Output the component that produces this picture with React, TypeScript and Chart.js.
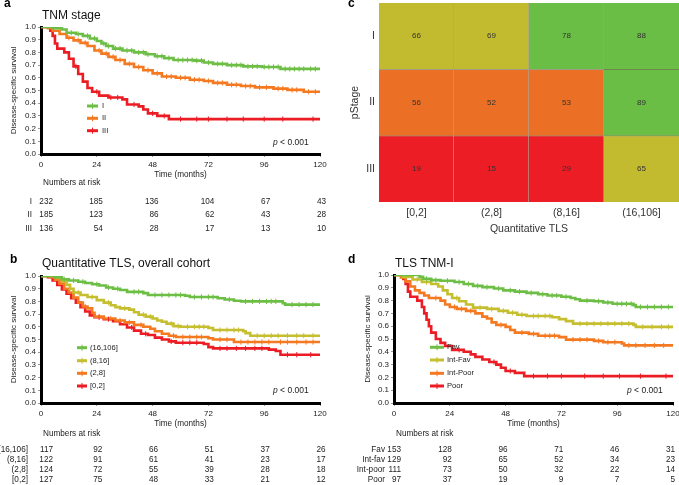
import React, { useEffect, useRef } from "react";
import { Chart, registerables } from "chart.js";

Chart.register(...registerables);

const FONT = "'Liberation Sans', Arial, Helvetica, sans-serif";
Chart.defaults.font.family = FONT;

const GREEN = "#6DBE45";
const OLIVE = "#C5BE2E";
const ORANGE = "#F47920";
const RED = "#EC1C24";

const TIME_TICKS = [0, 24, 48, 72, 96, 120];
const Y_TICKS = [0, 0.1, 0.2, 0.3, 0.4, 0.5, 0.6, 0.7, 0.8, 0.9, 1.0];

// ---------- Panel a: TNM stage ----------
const A_I_T = [0, 5, 9, 11, 15, 18, 21, 24, 26, 28, 31, 35, 40, 45, 49, 53, 57, 66, 70, 74, 80, 87, 95, 103, 120];
const A_I_S = [1, 0.99, 0.98, 0.955, 0.945, 0.93, 0.91, 0.89, 0.87, 0.85, 0.83, 0.815, 0.8, 0.785, 0.77, 0.755, 0.74, 0.735, 0.72, 0.71, 0.7, 0.69, 0.685, 0.67, 0.67];
const A_I_C = [13, 16, 20, 23, 27, 29, 32, 34, 37, 39, 42, 44, 46, 50, 52, 55, 59, 61, 63, 65, 67, 69, 72, 76, 78, 82, 84, 86, 89, 91, 93, 96, 98, 100, 102, 105, 107, 109, 111, 113, 116, 118];
const A_II_T = [0, 3, 5, 8, 11, 14, 17, 20, 23, 26, 29, 32, 36, 40, 44, 48, 52, 58, 64, 70, 74, 80, 86, 92, 100, 106, 113, 120];
const A_II_S = [1, 0.99, 0.97, 0.945, 0.915, 0.895, 0.875, 0.85, 0.815, 0.79, 0.765, 0.74, 0.71, 0.685, 0.66, 0.635, 0.61, 0.6, 0.585, 0.575, 0.56, 0.545, 0.535, 0.525, 0.515, 0.505, 0.49, 0.49];
const A_II_C = [12, 16, 19, 25, 28, 31, 34, 38, 42, 46, 50, 54, 56, 60, 62, 66, 68, 72, 76, 78, 82, 84, 88, 90, 94, 97, 102, 104, 108, 110, 115, 118];
const A_III_T = [0, 4, 5, 6, 7, 10, 12, 14, 16, 18, 20, 22, 25, 29, 35, 37, 42, 44, 46, 50, 55, 120];
const A_III_S = [1, 0.97, 0.93, 0.87, 0.83, 0.8, 0.75, 0.69, 0.63, 0.57, 0.52, 0.49, 0.46, 0.445, 0.43, 0.39, 0.375, 0.35, 0.32, 0.3, 0.275, 0.275];
const A_III_C = [15, 24, 30, 33, 40, 48, 53, 60, 67, 72, 80, 87, 96, 104, 117];
const A_RISK_I = [232, 185, 136, 104, 67, 43];
const A_RISK_II = [185, 123, 86, 62, 43, 28];
const A_RISK_III = [136, 54, 28, 17, 13, 10];

// ---------- Panel b: Quantitative TLS ----------
const B_G_T = [0, 6, 9, 12, 16, 19, 22, 25, 28, 31, 34, 37, 44, 46, 62, 64, 76, 79, 83, 86, 104, 105, 120];
const B_G_S = [1, 0.99, 0.975, 0.965, 0.955, 0.945, 0.935, 0.925, 0.91, 0.9, 0.89, 0.875, 0.865, 0.85, 0.845, 0.835, 0.825, 0.815, 0.805, 0.8, 0.785, 0.775, 0.775];
const B_G_C = [10, 14, 18, 24, 29, 33, 40, 42, 49, 52, 55, 58, 60, 66, 69, 72, 74, 81, 88, 91, 94, 97, 99, 101, 108, 111, 114, 117];
const B_Y_T = [0, 7, 9, 11, 12.5, 14, 17, 20, 24, 27, 30, 32, 34, 38, 40, 42, 45, 48, 50, 52, 54, 57, 60, 72, 74, 87, 88, 90, 120];
const B_Y_S = [1, 0.985, 0.96, 0.93, 0.9, 0.87, 0.85, 0.835, 0.81, 0.79, 0.77, 0.755, 0.745, 0.735, 0.715, 0.695, 0.68, 0.665, 0.65, 0.64, 0.625, 0.605, 0.6, 0.59, 0.575, 0.565, 0.55, 0.53, 0.53];
const B_Y_C = [16, 22, 29, 36, 44, 47, 56, 59, 63, 66, 68, 70, 77, 80, 83, 85, 93, 96, 99, 102, 106, 110, 113, 117];
const B_O_T = [0, 4, 6, 8, 10, 12, 14, 16, 18, 20, 22, 23, 27, 32, 36, 40, 44, 47, 49, 52, 55, 58, 72, 74, 83, 120];
const B_O_S = [1, 0.99, 0.97, 0.94, 0.9, 0.87, 0.83, 0.79, 0.76, 0.745, 0.71, 0.68, 0.665, 0.65, 0.635, 0.615, 0.6, 0.585, 0.565, 0.545, 0.53, 0.52, 0.51, 0.5, 0.48, 0.48];
const B_O_C = [19, 25, 30, 34, 38, 43, 57, 61, 64, 67, 69, 77, 80, 86, 89, 92, 95, 98, 103, 106, 110, 114, 117];
const B_R_T = [0, 3, 5, 7, 9, 11, 13, 15, 17, 19, 21, 23, 27, 31, 34, 37, 40, 43, 46, 49, 52, 55, 58, 70, 72, 74, 98, 101, 103, 120];
const B_R_S = [1, 0.99, 0.965, 0.93, 0.895, 0.86, 0.825, 0.79, 0.755, 0.72, 0.69, 0.675, 0.66, 0.645, 0.62, 0.595, 0.57, 0.545, 0.535, 0.515, 0.5, 0.485, 0.475, 0.465, 0.44, 0.43, 0.42, 0.41, 0.38, 0.38];
const B_R_C = [25, 29, 39, 45, 56, 61, 64, 67, 77, 80, 84, 88, 92, 95, 106, 110, 116];
const B_RISK_G = [117, 92, 66, 51, 37, 26];
const B_RISK_Y = [122, 91, 61, 41, 23, 17];
const B_RISK_O = [124, 72, 55, 39, 28, 18];
const B_RISK_R = [127, 75, 48, 33, 21, 12];

// ---------- Panel c: heatmap ----------
const TLS_BINS = ["[0,2]", "(2,8]", "(8,16]", "(16,106]"];
const PSTAGE_BOTTOM_UP = ["III", "II", "I"];
const DSS_I = [66, 69, 78, 88];
const DSS_II = [56, 52, 53, 89];
const DSS_III = [19, 15, 29, 65];

// ---------- Panel d: TLS TNM-I ----------
const D_F_T = [0, 11, 12.5, 16, 20, 26, 30, 34, 38, 43, 47, 52, 57, 62, 66, 72, 76, 78, 80, 86, 90, 94, 103, 104, 120];
const D_F_S = [1, 0.985, 0.97, 0.96, 0.955, 0.945, 0.93, 0.915, 0.905, 0.895, 0.88, 0.87, 0.86, 0.85, 0.84, 0.83, 0.82, 0.81, 0.8, 0.795, 0.785, 0.775, 0.765, 0.75, 0.75];
const D_F_C = [14, 18, 23, 28, 32, 36, 40, 45, 50, 54, 59, 64, 68, 70, 74, 83, 88, 92, 96, 98, 100, 102, 106, 109, 112, 115, 118];
const D_IF_T = [0, 4, 8, 12, 16, 19, 21, 23, 25, 28, 31, 34, 40, 45, 49, 53, 57, 68, 71, 74, 77, 103, 104, 120];
const D_IF_S = [1, 0.985, 0.965, 0.945, 0.93, 0.91, 0.88, 0.85, 0.82, 0.795, 0.77, 0.745, 0.735, 0.72, 0.705, 0.69, 0.68, 0.67, 0.655, 0.64, 0.62, 0.61, 0.595, 0.595];
const D_IF_C = [10, 14, 27, 37, 42, 47, 51, 55, 60, 62, 65, 67, 80, 83, 86, 89, 92, 95, 98, 101, 107, 111, 115, 118];
const D_IP_T = [0, 3, 5, 7, 9, 11, 13, 15, 20, 22, 24, 27, 31, 35, 38, 40, 42, 44, 48, 50, 52, 58, 62, 71, 74, 86, 90, 98, 99, 120];
const D_IP_S = [1, 0.98, 0.95, 0.91, 0.88, 0.86, 0.84, 0.82, 0.8, 0.77, 0.75, 0.735, 0.72, 0.7, 0.675, 0.66, 0.63, 0.61, 0.595, 0.57, 0.55, 0.54, 0.525, 0.515, 0.495, 0.485, 0.475, 0.465, 0.45, 0.45];
const D_IP_C = [18, 26, 29, 33, 46, 55, 60, 65, 67, 69, 77, 80, 83, 88, 92, 95, 101, 104, 108, 112, 116];
const D_P_T = [0, 4, 5, 6, 7, 10, 12, 13, 14, 15, 16, 18, 20, 22, 25, 30, 33, 35, 38, 41, 44, 46, 48, 52, 56, 120];
const D_P_S = [1, 0.97, 0.93, 0.87, 0.83, 0.8, 0.75, 0.7, 0.65, 0.6, 0.55, 0.5, 0.47, 0.445, 0.415, 0.4, 0.38, 0.36, 0.34, 0.32, 0.3, 0.275, 0.25, 0.235, 0.21, 0.21];
const D_P_C = [28, 43, 50, 60, 66, 72, 82, 90, 97, 106, 117];
const D_RISK_F = [153, 128, 96, 71, 46, 31];
const D_RISK_IF = [129, 92, 65, 52, 34, 23];
const D_RISK_IP = [111, 73, 50, 32, 22, 14];
const D_RISK_P = [97, 37, 19, 9, 7, 5];

// ---------- helpers ----------
type Curve = {
  label: string;
  riskLabel: string;
  color: string;
  t: number[];
  s: number[];
  c: number[];
  risk: number[];
};

type KMPanel = {
  width: number;
  height: number;
  padding: { top: number; right: number; bottom: number; left: number };
  yWidth: number;
  xHeight: number;
  yTitlePad: number;
  xTitlePad: number;
  letter: string;
  letterX: number;
  letterY: number;
  title: string;
  titleX: number;
  titleY: number;
  curves: Curve[];
  legYs: number[];
  legX0: number;
  legX1: number;
  legLabelX: number;
  pX: number;
  pY: number;
  riskHeadX: number;
  riskHeadY: number;
  riskYs: number[];
  riskLabelX: number;
  col0Off: number;
  colOff: number;
};

function stepAt(t: number[], s: number[], x: number) {
  let v = s[0];
  for (let i = 0; i < t.length; i++) {
    if (t[i] <= x) v = s[i];
    else break;
  }
  return v;
}

function kmConfig(p: KMPanel): any {
  const censor = p.curves.map((cv) => ({
    type: "line",
    data: cv.c.map((x) => ({ x, y: stepAt(cv.t, cv.s, x) })),
    showLine: false,
    pointStyle: "line",
    rotation: 90,
    pointRadius: 2.6,
    pointBorderWidth: 1,
    pointBorderColor: cv.color,
    borderColor: cv.color,
    backgroundColor: cv.color,
  }));
  const lines = p.curves.map((cv) => ({
    type: "line",
    data: cv.t.map((x, i) => ({ x, y: cv.s[i] })),
    stepped: "before",
    borderColor: cv.color,
    borderWidth: 2.6,
    pointRadius: 0,
    fill: false,
  }));

  const textPlugin = {
    id: "kmText",
    afterDraw(chart: any) {
      const ctx = chart.ctx as CanvasRenderingContext2D;
      const xs = chart.scales.x;
      ctx.save();
      ctx.textAlign = "left";
      ctx.textBaseline = "alphabetic";
      ctx.fillStyle = "#000";
      ctx.font = `bold 12px ${FONT}`;
      ctx.fillText(p.letter, p.letterX, p.letterY);
      ctx.font = `12px ${FONT}`;
      ctx.fillStyle = "#111";
      ctx.fillText(p.title, p.titleX, p.titleY);

      // legend
      p.curves.forEach((cv, i) => {
        const y = p.legYs[i];
        ctx.strokeStyle = cv.color;
        ctx.lineWidth = 3;
        ctx.beginPath();
        ctx.moveTo(p.legX0, y);
        ctx.lineTo(p.legX1, y);
        ctx.stroke();
        const mid = (p.legX0 + p.legX1) / 2;
        ctx.lineWidth = 1;
        ctx.beginPath();
        ctx.moveTo(mid, y - 3);
        ctx.lineTo(mid, y + 3);
        ctx.stroke();
        ctx.fillStyle = "#222";
        ctx.font = `7.6px ${FONT}`;
        ctx.textBaseline = "middle";
        ctx.fillText(cv.label, p.legLabelX, y);
      });

      // p value
      ctx.fillStyle = "#222";
      ctx.textBaseline = "middle";
      ctx.font = `italic 8.5px ${FONT}`;
      ctx.fillText("p", p.pX, p.pY);
      const pw = ctx.measureText("p").width;
      ctx.font = `8.5px ${FONT}`;
      ctx.fillText(" < 0.001", p.pX + pw, p.pY);

      // risk table
      ctx.font = `8.2px ${FONT}`;
      ctx.fillText("Numbers at risk", p.riskHeadX, p.riskHeadY);
      p.curves.forEach((cv, i) => {
        const y = p.riskYs[i];
        ctx.textAlign = "right";
        ctx.fillText(cv.riskLabel, p.riskLabelX, y);
        cv.risk.forEach((n, j) => {
          const xt = xs.getPixelForValue(TIME_TICKS[j]);
          ctx.fillText(String(n), xt + (j === 0 ? p.col0Off : p.colOff), y);
        });
      });
      ctx.restore();
    },
  };

  return {
    type: "line",
    data: { datasets: [...censor, ...lines] },
    options: {
      animation: false,
      responsive: false,
      devicePixelRatio: 1,
      layout: { padding: p.padding },
      plugins: { legend: { display: false }, tooltip: { enabled: false } },
      scales: {
        x: {
          type: "linear",
          min: 0,
          max: 120,
          afterBuildTicks: (s: any) => {
            s.ticks = TIME_TICKS.map((v) => ({ value: v }));
          },
          ticks: { font: { size: 8 }, color: "#222", padding: 3, maxRotation: 0, autoSkip: false },
          grid: { drawOnChartArea: false, tickLength: 3, color: "#999" },
          border: { display: true, color: "#000", width: 3 },
          title: {
            display: true,
            text: "Time (months)",
            font: { size: 8.2 },
            color: "#222",
            padding: { top: 0, bottom: p.xTitlePad },
          },
          afterFit: (s: any) => {
            s.height = p.xHeight;
            s.paddingLeft = 0;
            s.paddingRight = 0;
          },
        },
        y: {
          type: "linear",
          min: 0,
          max: 1,
          afterBuildTicks: (s: any) => {
            s.ticks = Y_TICKS.map((v) => ({ value: v }));
          },
          ticks: {
            font: { size: 8 },
            color: "#222",
            padding: 2,
            autoSkip: false,
            callback: (v: any) => Number(v).toFixed(1),
          },
          grid: { drawOnChartArea: false, tickLength: 3, color: "#999" },
          border: { display: true, color: "#000", width: 3 },
          title: {
            display: true,
            text: "Disease-specific survival",
            font: { size: 8 },
            color: "#222",
            padding: { top: p.yTitlePad, bottom: 0 },
          },
          afterFit: (s: any) => {
            s.width = p.yWidth;
            s.paddingTop = 0;
            s.paddingBottom = 0;
          },
        },
      },
    },
    plugins: [textPlugin],
  };
}

function cellColor(v: number) {
  if (v >= 75) return "#6ABD45";
  if (v >= 60) return "#C2BB30";
  if (v >= 40) return "#EB7025";
  return "#EC1D25";
}

function heatmapConfig(): any {
  const rows = [DSS_III, DSS_II, DSS_I];
  const datasets = rows.map((vals, di) => ({
    label: PSTAGE_BOTTOM_UP[di],
    data: vals.map(() => 1),
    backgroundColor: vals.map(cellColor),
    borderColor: "rgba(70,50,20,0.45)",
    borderWidth: (ctx: any) => ({
      top: ctx.datasetIndex < 2 ? 1 : 0,
      right: ctx.dataIndex < 3 ? 1 : 0,
      bottom: 0,
      left: 0,
    }),
    borderSkipped: false,
    barPercentage: 1,
    categoryPercentage: 1,
  }));

  const cellText = {
    id: "cellText",
    afterDatasetsDraw(chart: any) {
      const ctx = chart.ctx as CanvasRenderingContext2D;
      ctx.save();
      ctx.font = `8px ${FONT}`;
      ctx.fillStyle = "#333";
      ctx.textAlign = "center";
      ctx.textBaseline = "middle";
      rows.forEach((vals, di) => {
        const meta = chart.getDatasetMeta(di);
        meta.data.forEach((el: any, ci: number) => {
          const pr = el.getProps(["x", "y", "base"], true);
          ctx.fillText(String(vals[ci]), pr.x, (pr.y + pr.base) / 2);
        });
      });
      ctx.fillStyle = "#000";
      ctx.font = `bold 12px ${FONT}`;
      ctx.textAlign = "left";
      ctx.textBaseline = "alphabetic";
      ctx.fillText("c", 8, 7);
      ctx.restore();
    },
  };

  return {
    type: "bar",
    data: { labels: TLS_BINS, datasets },
    options: {
      animation: false,
      responsive: false,
      devicePixelRatio: 1,
      layout: { padding: { top: 3, right: 0, bottom: 4, left: 0 } },
      plugins: { legend: { display: false }, tooltip: { enabled: false } },
      scales: {
        x: {
          type: "category",
          stacked: true,
          grid: { display: false, drawTicks: false },
          border: { display: false },
          ticks: { font: { size: 10.5 }, color: "#333", padding: 5 },
          title: {
            display: true,
            text: "Quantitative TLS",
            font: { size: 10.5 },
            color: "#333",
            padding: { top: 0, bottom: 1 },
          },
          afterFit: (s: any) => {
            s.height = 34;
            s.paddingLeft = 0;
            s.paddingRight = 0;
          },
        },
        y: {
          type: "linear",
          stacked: true,
          min: 0,
          max: 3,
          afterBuildTicks: (s: any) => {
            s.ticks = [0.5, 1.5, 2.5].map((v) => ({ value: v }));
          },
          ticks: {
            font: { size: 10.5 },
            color: "#333",
            padding: 4,
            callback: (_v: any, i: number) => PSTAGE_BOTTOM_UP[i],
          },
          grid: { display: false, drawTicks: false },
          border: { display: false },
          title: {
            display: true,
            text: "pStage",
            font: { size: 10.5 },
            color: "#333",
            padding: { top: 8.7, bottom: 0 },
          },
          afterFit: (s: any) => {
            s.width = 39;
            s.paddingTop = 0;
            s.paddingBottom = 0;
          },
        },
      },
    },
    plugins: [cellText],
  };
}

const PANEL_A: KMPanel = {
  width: 340,
  height: 240,
  padding: { top: 27, right: 20, bottom: 59, left: 0 },
  yWidth: 41,
  xHeight: 27,
  yTitlePad: 8.7,
  xTitlePad: 1,
  letter: "a",
  letterX: 4,
  letterY: 7,
  title: "TNM stage",
  titleX: 42,
  titleY: 19,
  curves: [
    { label: "I", riskLabel: "I", color: GREEN, t: A_I_T, s: A_I_S, c: A_I_C, risk: A_RISK_I },
    { label: "II", riskLabel: "II", color: ORANGE, t: A_II_T, s: A_II_S, c: A_II_C, risk: A_RISK_II },
    { label: "III", riskLabel: "III", color: RED, t: A_III_T, s: A_III_S, c: A_III_C, risk: A_RISK_III },
  ],
  legYs: [106, 118.3, 130.7],
  legX0: 87,
  legX1: 98,
  legLabelX: 102,
  pX: 273,
  pY: 142.7,
  riskHeadX: 43,
  riskHeadY: 183,
  riskYs: [201.7, 215, 229],
  riskLabelX: 32,
  col0Off: 12,
  colOff: 6,
};

const PANEL_B: KMPanel = {
  width: 340,
  height: 245,
  padding: { top: 36, right: 20, bottom: 55, left: 0 },
  yWidth: 41,
  xHeight: 27,
  yTitlePad: 8.7,
  xTitlePad: 1.6,
  letter: "b",
  letterX: 10,
  letterY: 23.3,
  title: "Quantitative TLS, overall cohort",
  titleX: 42,
  titleY: 27.3,
  curves: [
    { label: "(16,106]", riskLabel: "(16,106]", color: GREEN, t: B_G_T, s: B_G_S, c: B_G_C, risk: B_RISK_G },
    { label: "(8,16]", riskLabel: "(8,16]", color: OLIVE, t: B_Y_T, s: B_Y_S, c: B_Y_C, risk: B_RISK_Y },
    { label: "(2,8]", riskLabel: "(2,8]", color: ORANGE, t: B_O_T, s: B_O_S, c: B_O_C, risk: B_RISK_O },
    { label: "[0,2]", riskLabel: "[0,2]", color: RED, t: B_R_T, s: B_R_S, c: B_R_C, risk: B_RISK_R },
  ],
  legYs: [107.7, 120.7, 133.3, 146],
  legX0: 77,
  legX1: 87,
  legLabelX: 90,
  pX: 273,
  pY: 150.7,
  riskHeadX: 43,
  riskHeadY: 193.3,
  riskYs: [209.3, 219.3, 229.3, 239.3],
  riskLabelX: 28,
  col0Off: 12,
  colOff: 5.5,
};

const PANEL_D: KMPanel = {
  width: 339,
  height: 245,
  padding: { top: 35, right: 6, bottom: 55, left: 0 },
  yWidth: 54,
  xHeight: 27,
  yTitlePad: 22.7,
  xTitlePad: 1.6,
  letter: "d",
  letterX: 8,
  letterY: 22.7,
  title: "TLS TNM-I",
  titleX: 55,
  titleY: 27.3,
  curves: [
    { label: "Fav", riskLabel: "Fav", color: GREEN, t: D_F_T, s: D_F_S, c: D_F_C, risk: D_RISK_F },
    { label: "Int-Fav", riskLabel: "Int-fav", color: OLIVE, t: D_IF_T, s: D_IF_S, c: D_IF_C, risk: D_RISK_IF },
    { label: "Int-Poor", riskLabel: "Int-poor", color: ORANGE, t: D_IP_T, s: D_IP_S, c: D_IP_C, risk: D_RISK_IP },
    { label: "Poor", riskLabel: "Poor", color: RED, t: D_P_T, s: D_P_S, c: D_P_C, risk: D_RISK_P },
  ],
  legYs: [107.3, 120, 133.3, 146],
  legX0: 90,
  legX1: 104,
  legLabelX: 107,
  pX: 287,
  pY: 150.7,
  riskHeadX: 56,
  riskHeadY: 193.3,
  riskYs: [209.3, 219.3, 229.3, 239.3],
  riskLabelX: 45,
  col0Off: 7,
  colOff: 2,
};

function ChartCanvas(props: { left: number; top: number; width: number; height: number; make: () => any }) {
  const ref = useRef<HTMLCanvasElement>(null);
  useEffect(() => {
    const chart = new Chart(ref.current as HTMLCanvasElement, props.make());
    return () => chart.destroy();
  }, []);
  return (
    <canvas
      ref={ref}
      width={props.width}
      height={props.height}
      style={{ position: "absolute", left: props.left, top: props.top, width: props.width, height: props.height }}
    />
  );
}

export default function App() {
  return (
    <div style={{ position: "absolute", left: 0, top: 0, width: 679, height: 485, background: "#fff", overflow: "hidden" }}>
      <ChartCanvas left={0} top={0} width={340} height={240} make={() => kmConfig(PANEL_A)} />
      <ChartCanvas left={340} top={0} width={339} height={240} make={heatmapConfig} />
      <ChartCanvas left={0} top={240} width={340} height={245} make={() => kmConfig(PANEL_B)} />
      <ChartCanvas left={340} top={240} width={339} height={245} make={() => kmConfig(PANEL_D)} />
    </div>
  );
}
